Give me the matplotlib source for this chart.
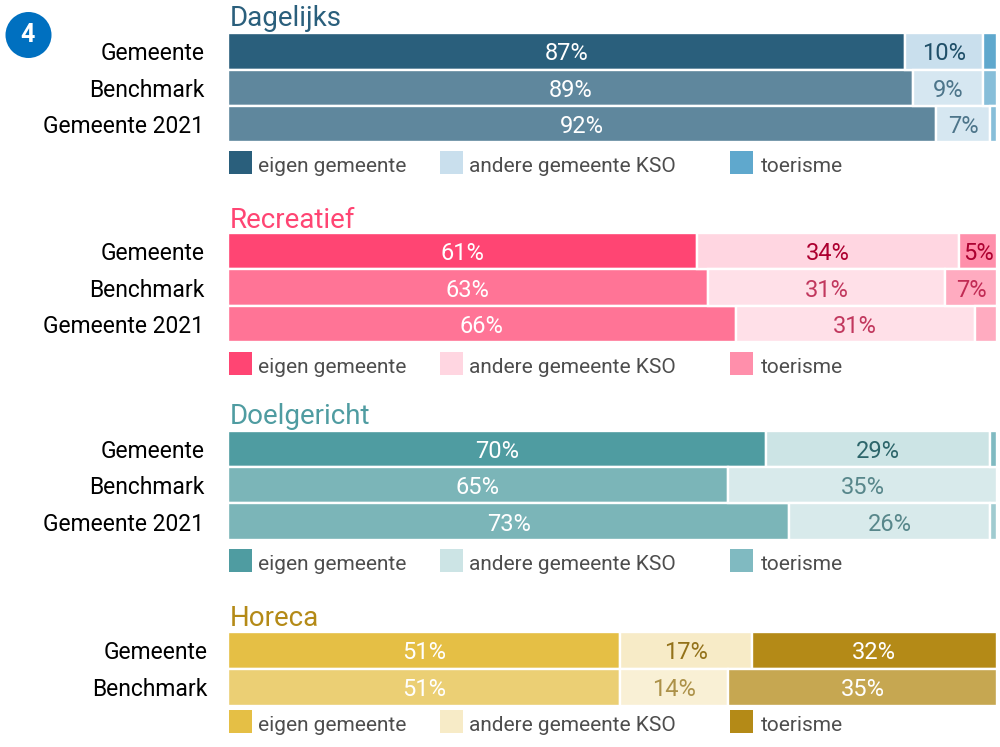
# -*- coding: utf-8 -*-
import matplotlib
matplotlib.use('Agg')
import matplotlib.pyplot as plt
from matplotlib.colors import to_rgba
from matplotlib.patches import Circle, Rectangle

plt.rcParams['font.family'] = ['Roboto', 'DejaVu Sans']

# _____________________________________________________________________________
#                                 Data
# _____________________________________________________________________________
rows_3 = ['Gemeente', 'Benchmark', 'Gemeente 2021']
rows_2 = ['Gemeente', 'Benchmark']
legend_names = ['eigen gemeente', 'andere gemeente KSO', 'toerisme']

dagelijks_eigen = [88.0, 89.1, 92.1]
dagelijks_andere = [10.2, 9.1, 7.0]
dagelijks_toerisme = [1.8, 1.8, 0.9]
dagelijks_labels = [['87%', '10%', ''], ['89%', '9%', ''], ['92%', '7%', '']]

recreatief_eigen = [61.0, 62.4, 66.0]
recreatief_andere = [34.1, 30.9, 31.1]
recreatief_toerisme = [4.9, 6.7, 2.9]
recreatief_labels = [['61%', '34%', '5%'], ['63%', '31%', '7%'], ['66%', '31%', '']]

doelgericht_eigen = [70.0, 65.0, 73.0]
doelgericht_andere = [29.1, 35.0, 26.1]
doelgericht_toerisme = [0.9, 0.0, 0.9]
doelgericht_labels = [['70%', '29%', ''], ['65%', '35%', ''], ['73%', '26%', '']]

horeca_eigen = [51.0, 51.0]
horeca_andere = [17.1, 14.0]
horeca_toerisme = [31.9, 35.0]
horeca_labels = [['51%', '17%', '32%'], ['51%', '14%', '35%']]

# _____________________________________________________________________________
#                          Layout (pixels) and colours
# _____________________________________________________________________________
W, H = 1000, 747
panels = [
    dict(title='Dagelijks', rows=rows_3, top=33.3, bottom=142.2, title_y=19,
         legend_y=151, pad=17, title_col='#2a5f7c',
         vals=(dagelijks_eigen, dagelijks_andere, dagelijks_toerisme),
         labels=dagelijks_labels,
         cols=('#2a5f7c', '#c9dfed', '#5fa8cd'),
         txt=('#ffffff', '#1f4f68', '#1f4f68')),
    dict(title='Recreatief', rows=rows_3, top=233.0, bottom=342.2, title_y=220,
         legend_y=352, pad=17, title_col='#ff4573',
         vals=(recreatief_eigen, recreatief_andere, recreatief_toerisme),
         labels=recreatief_labels,
         cols=('#ff4573', '#ffd6e1', '#ff8fab'),
         txt=('#ffffff', '#ad0030', '#ad0030')),
    dict(title='Doelgericht', rows=rows_3, top=430.6, bottom=539.8, title_y=417,
         legend_y=549, pad=17, title_col='#4f9ca1',
         vals=(doelgericht_eigen, doelgericht_andere, doelgericht_toerisme),
         labels=doelgericht_labels,
         cols=('#4f9ca1', '#cce4e5', '#80bac1'),
         txt=('#ffffff', '#2d666b', '#2d666b')),
    dict(title='Horeca', rows=rows_2, top=632.0, bottom=705.5, title_y=619,
         legend_y=710, pad=14.5, title_col='#b48a17',
         vals=(horeca_eigen, horeca_andere, horeca_toerisme),
         labels=horeca_labels,
         cols=('#e5bf45', '#f7ebc7', '#b48a17'),
         txt=('#ffffff', '#93721a', '#ffffff')),
]
row_alpha = [1.0, .75, .75]
bar_left, bar_right = 228, 997
swatch_x = [229, 440, 730]
text_x = [258, 469, 761]

# _____________________________________________________________________________
#                               Plotting
# _____________________________________________________________________________
fig = plt.figure(figsize=(W / 100, H / 100), dpi=100)
fig.patch.set_facecolor('white')

# overlay in pixel coordinates, for titles, legends and the badge
over = fig.add_axes([0, 0, 1, 1], zorder=5)
over.set_xlim(0, W)
over.set_ylim(H, 0)
over.axis('off')
over.patch.set_alpha(0)

over.add_patch(Circle((28.5, 35), 23, fc='#0070c0', ec='none'))
over.text(28, 35, '4', color='white', fontsize=18, fontweight='bold',
          ha='center', va='center')

for p in panels:
    ax = fig.add_axes([bar_left / W, 1 - p['bottom'] / H,
                       (bar_right - bar_left) / W,
                       (p['bottom'] - p['top']) / H])
    n = len(p['rows'])
    left = [0.] * n
    for s in range(3):
        for r in range(n):
            val = p['vals'][s][r]
            if val > 0:
                ax.barh(r, val, left=left[r], height=1,
                        color=to_rgba(p['cols'][s], row_alpha[r]),
                        edgecolor='white', linewidth=1.7)
            lab = p['labels'][r][s]
            if lab:
                ax.text(left[r] + val / 2, r + .07, lab, ha='center',
                        va='center', fontsize=17, color=p['txt'][s],
                        alpha=row_alpha[r] if s > 0 and p['txt'][s] != '#ffffff' else 1)
            left[r] += val
    ax.set_xlim(0, 100)
    ax.set_ylim(n - .5, -.5)
    ax.set_xticks([])
    ax.set_yticks(range(n))
    ax.set_yticklabels(p['rows'], fontsize=16.5, color='black')
    ax.tick_params(axis='y', length=0, pad=p['pad'])
    for sp in ax.spines.values():
        sp.set_visible(False)

    over.text(230, p['title_y'], p['title'], color=p['title_col'], fontsize=20,
              ha='left', va='center')
    for s in range(3):
        over.add_patch(Rectangle((swatch_x[s], p['legend_y']), 23, 23,
                                 fc=p['cols'][s], ec='none'))
        over.text(text_x[s], p['legend_y'] + 15.5, legend_names[s], fontsize=15,
                  color='#4d4d4d', ha='left', va='center')

fig.savefig('out.png', dpi=100)
